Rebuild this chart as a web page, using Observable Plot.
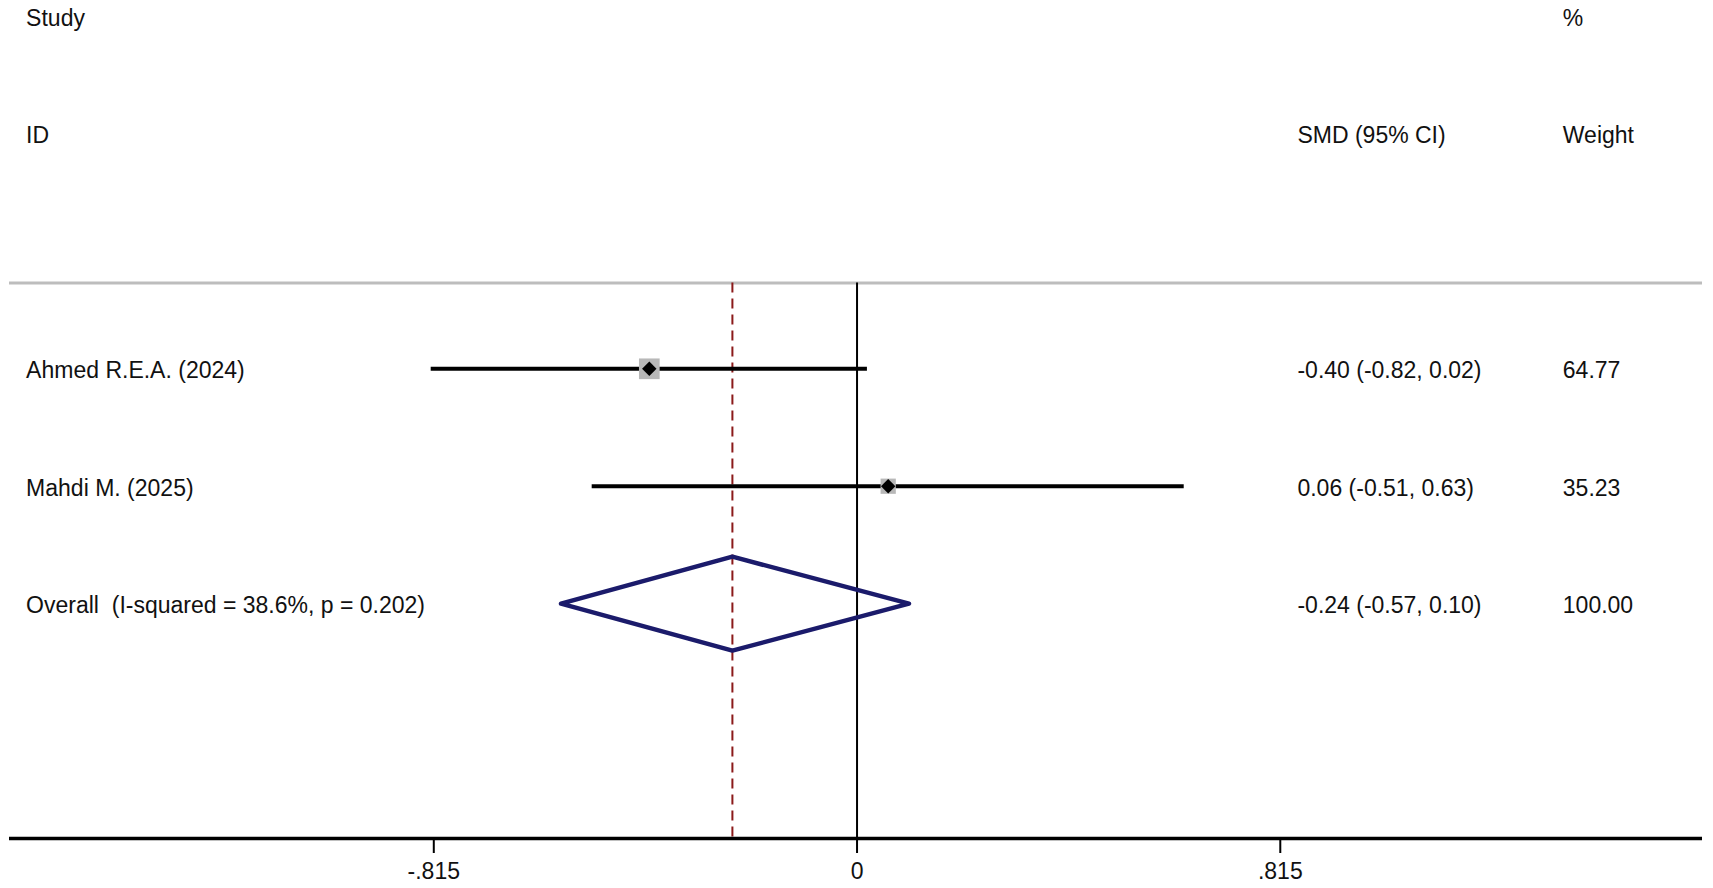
<!DOCTYPE html>
<html>
<head>
<meta charset="utf-8">
<script src="https://cdn.jsdelivr.net/npm/d3@7"></script>
<script src="https://cdn.jsdelivr.net/npm/@observablehq/plot@0.6"></script>
<style>
  html, body { margin: 0; padding: 0; background: #fff; }
  svg text { white-space: pre; }
</style>
</head>
<body>
<div id="chart"></div>
<script>
// ---- data ----
const studies = ["Ahmed R.E.A. (2024)", "Mahdi M. (2025)"];
const smd = [-0.40, 0.06];
const lower = [-0.82, -0.51];
const upper = [0.02, 0.63];
const weights = [64.77, 35.23];

const overallLabel = "Overall  (I-squared = 38.6%, p = 0.202)";
const overallSmd = -0.24;
const overallLower = -0.57;
const overallUpper = 0.10;
const overallWeight = 100.00;

const tickValues = [-0.815, 0, 0.815];
const headerLeft = ["Study", "ID"];
const headerSmd = ["", "SMD (95% CI)"];
const headerWeight = ["%", "Weight"];

// ---- layout constants ----
const colStudy = -1.6, colSmd = 0.848, colWeight = 1.359;
const lineRow = 0.27, axisRow = 5;

const rows = studies.map((s, i) => ({
  study: s, smd: smd[i], lo: lower[i], hi: upper[i], w: weights[i], row: i + 1,
  ci: `${smd[i].toFixed(2)} (${lower[i].toFixed(2)}, ${upper[i].toFixed(2)})`,
  wt: weights[i].toFixed(2)
}));
const overallRow = studies.length + 1;
const overall = [{
  study: overallLabel, row: overallRow,
  ci: `${overallSmd.toFixed(2)} (${overallLower.toFixed(2)}, ${overallUpper.toFixed(2)})`,
  wt: overallWeight.toFixed(2)
}];
const dh = 0.4;
const diamond = [
  {x: overallLower, y: overallRow},
  {x: overallSmd, y: overallRow - dh},
  {x: overallUpper, y: overallRow},
  {x: overallSmd, y: overallRow + dh}
];
const headers = headerLeft.map((h, i) => ({left: h, smd: headerSmd[i], wt: headerWeight[i], row: i - 2}));

const fmtTick = d => d === 0 ? "0" : d.toFixed(3).replace("0.", ".");
const txt = {textAnchor: "start", fill: "#111", dy: 2};

const chart = Plot.plot({
  width: 1713,
  height: 888,
  marginLeft: 9,
  marginRight: 11,
  marginTop: 16,
  marginBottom: 50,
  style: {fontFamily: "'Liberation Sans', Arial, sans-serif", fontSize: "23px", color: "#000", background: "#fff"},
  x: {domain: [-1.632, 1.628]},
  y: {domain: [-2, 5], reverse: true, axis: null},
  r: {type: "sqrt", domain: [0, 100], range: [0, 14.5]},
  marks: [
    // header
    Plot.text(headers, {x: colStudy, y: "row", text: "left", ...txt}),
    Plot.text(headers, {x: colSmd, y: "row", text: "smd", ...txt}),
    Plot.text(headers, {x: colWeight, y: "row", text: "wt", ...txt}),
    // separator
    Plot.ruleY([lineRow], {stroke: "#bdbdbd", strokeWidth: 3}),
    // reference lines
    Plot.ruleX([0], {y1: lineRow, y2: axisRow, stroke: "#000", strokeWidth: 2}),
    Plot.ruleX([overallSmd], {y1: lineRow, y2: axisRow, stroke: "#8b1a1a", strokeWidth: 2, strokeDasharray: "10,6"}),
    // study CIs
    Plot.ruleY(rows, {x1: "lo", x2: "hi", y: "row", stroke: "#000", strokeWidth: 4}),
    Plot.dot(rows, {x: "smd", y: "row", r: "w", symbol: "square", fill: "#b8b8b8", stroke: null}),
    Plot.dot(rows, {x: "smd", y: "row", r: 6.5, symbol: "diamond2", fill: "#000", stroke: null}),
    // overall diamond
    Plot.line(diamond, {x: "x", y: "y", curve: "linear-closed", stroke: "#1b1b6b", strokeWidth: 4.5, fill: "none"}),
    // row labels
    Plot.text(rows.concat(overall), {x: colStudy, y: "row", text: "study", ...txt}),
    Plot.text(rows.concat(overall), {x: colSmd, y: "row", text: "ci", ...txt}),
    Plot.text(rows.concat(overall), {x: colWeight, y: "row", text: "wt", ...txt}),
    // axis
    Plot.ruleY([axisRow], {stroke: "#000", strokeWidth: 3.5}),
    Plot.axisX({ticks: tickValues, tickFormat: fmtTick, tickSize: 15, tickPadding: 9, strokeWidth: 2, label: null, fontSize: 23, fill: "#111"})
  ]
});
document.getElementById("chart").appendChild(chart);
</script>
</body>
</html>
